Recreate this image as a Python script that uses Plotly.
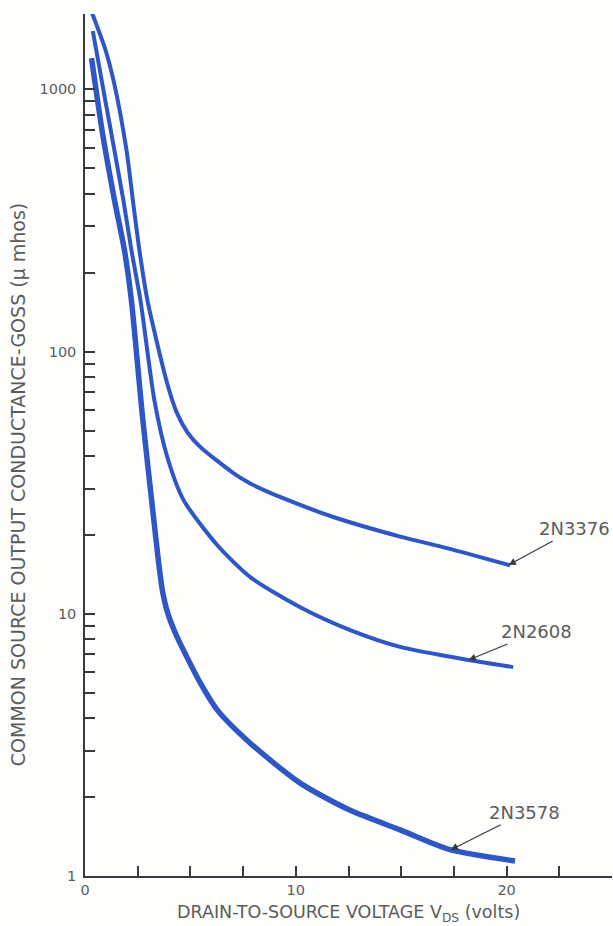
import numpy as np
import plotly.graph_objects as go

# curve data (V_DS in volts, goss in micro-mhos)
vds_3376 = [0.34, 0.97, 1.35, 1.97, 2.27, 2.58, 2.96, 3.90, 4.37, 4.86, 5.45, 7.04, 7.84, 9.40, 11.78, 14.95, 17.17, 20.17]
goss_3376 = [1950, 1416, 1085, 586, 378, 244, 157, 75.6, 58.1, 49.2, 43.4, 34.4, 31.4, 27.6, 23.4, 19.7, 17.8, 15.3]

vds_2608 = [0.37, 0.96, 1.82, 2.20, 2.63, 3.29, 3.90, 4.67, 6.27, 7.84, 10.21, 12.58, 14.95, 18.27, 20.31]
goss_2608 = [1670, 910, 378, 244, 157, 65.3, 39.7, 27.2, 18.3, 13.8, 10.6, 8.67, 7.48, 6.65, 6.26]

vds_3578 = [0.31, 0.83, 1.40, 1.87, 2.20, 2.73, 3.25, 3.48, 3.67, 3.91, 4.29, 4.67, 5.47, 6.27, 7.84,
            10.21, 12.58, 14.95, 17.32, 20.40]
goss_3578 = [1316, 681, 378, 244, 157, 56.2, 23.4, 16.0, 12.3, 10.15, 8.43, 7.27, 5.45, 4.30, 3.21,
             2.26, 1.78, 1.50, 1.26, 1.14]

device_names = ["2N3376", "2N2608", "2N3578"]
arrow_vds = [20.1, 18.2, 17.35]   # where the label arrows touch each curve

x_ticks = [0, 2.5, 5, 7.5, 10, 12.5, 15, 17.5, 20, 22.5, 25]
x_ticklabels = ["0", "", "", "", "10", "", "", "", "20", "", ""]
y_ticks = [m * 10 ** d for d in range(3) for m in range(1, 10)] + [1000]
y_ticklabels = [str(v) if v in (1, 10, 100, 1000) else "" for v in y_ticks]

BLUE = "#2f56c6"
INK = "#3a3a3a"
TXT = "#5c5c5c"
FONT = "DejaVu Sans"

curves = [(vds_3376, goss_3376, 4), (vds_2608, goss_2608, 4), (vds_3578, goss_3578, 5.5)]

fig = go.Figure()
for (x_, y_, w), name in zip(curves, device_names):
    fig.add_trace(go.Scatter(x=x_, y=y_, mode="lines", name=name,
                             line=dict(color=BLUE, width=w, shape="spline", smoothing=0.7),
                             showlegend=False))

# curve labels with arrows
offsets = [(66, -36), (68, -28), (74, -37)]
annotations = []
for (x_, y_, w), name, xv, (ax_, ay_) in zip(curves, device_names, arrow_vds, offsets):
    yv = np.interp(xv, x_, np.log10(y_))
    annotations.append(dict(x=xv, y=yv, xref="x", yref="y", text=name,
                            showarrow=True, arrowhead=2, arrowsize=1.2, arrowwidth=1.2,
                            arrowcolor=INK, ax=ax_, ay=ay_,
                            font=dict(family=FONT, size=18, color=TXT)))

# axis titles
annotations.append(dict(xref="paper", yref="paper", x=0.5, y=-0.044,
                        xanchor="center", yanchor="middle",
                        text="DRAIN-TO-SOURCE VOLTAGE V<sub>DS</sub> (volts)",
                        font=dict(family=FONT, size=17.5, color=TXT), showarrow=False))
annotations.append(dict(xref="paper", yref="paper", x=-0.128, y=0.454,
                        xanchor="center", yanchor="middle", textangle=-90,
                        text="COMMON SOURCE OUTPUT CONDUCTANCE-GOSS (\u03bc mhos)",
                        font=dict(family=FONT, size=19, color=TXT), showarrow=False))

fig.update_layout(
    width=613, height=926,
    margin=dict(l=85, r=1, t=14, b=50),
    paper_bgcolor="#fefefc", plot_bgcolor="#fefefc",
    annotations=annotations,
    xaxis=dict(range=[0, 25], tickvals=x_ticks, ticktext=x_ticklabels,
               ticks="inside", ticklen=10, tickwidth=1.5, tickcolor=INK,
               showline=True, linecolor=INK, linewidth=1.5,
               showgrid=False, zeroline=False,
               tickfont=dict(family=FONT, size=14.5, color=TXT)),
    yaxis=dict(type="log", range=[0, 3.2875], tickvals=y_ticks, ticktext=y_ticklabels,
               ticks="inside", ticklen=10, tickwidth=1.5, tickcolor=INK,
               showline=True, linecolor=INK, linewidth=1.5,
               showgrid=False, zeroline=False, ticklabelstandoff=4,
               tickfont=dict(family=FONT, size=14.5, color=TXT)),
)

# drop the page's default body margin so the figure fills the window exactly
fig.write_html("out.html", config={"displayModeBar": False},
               post_script="document.body.style.margin='0';")
